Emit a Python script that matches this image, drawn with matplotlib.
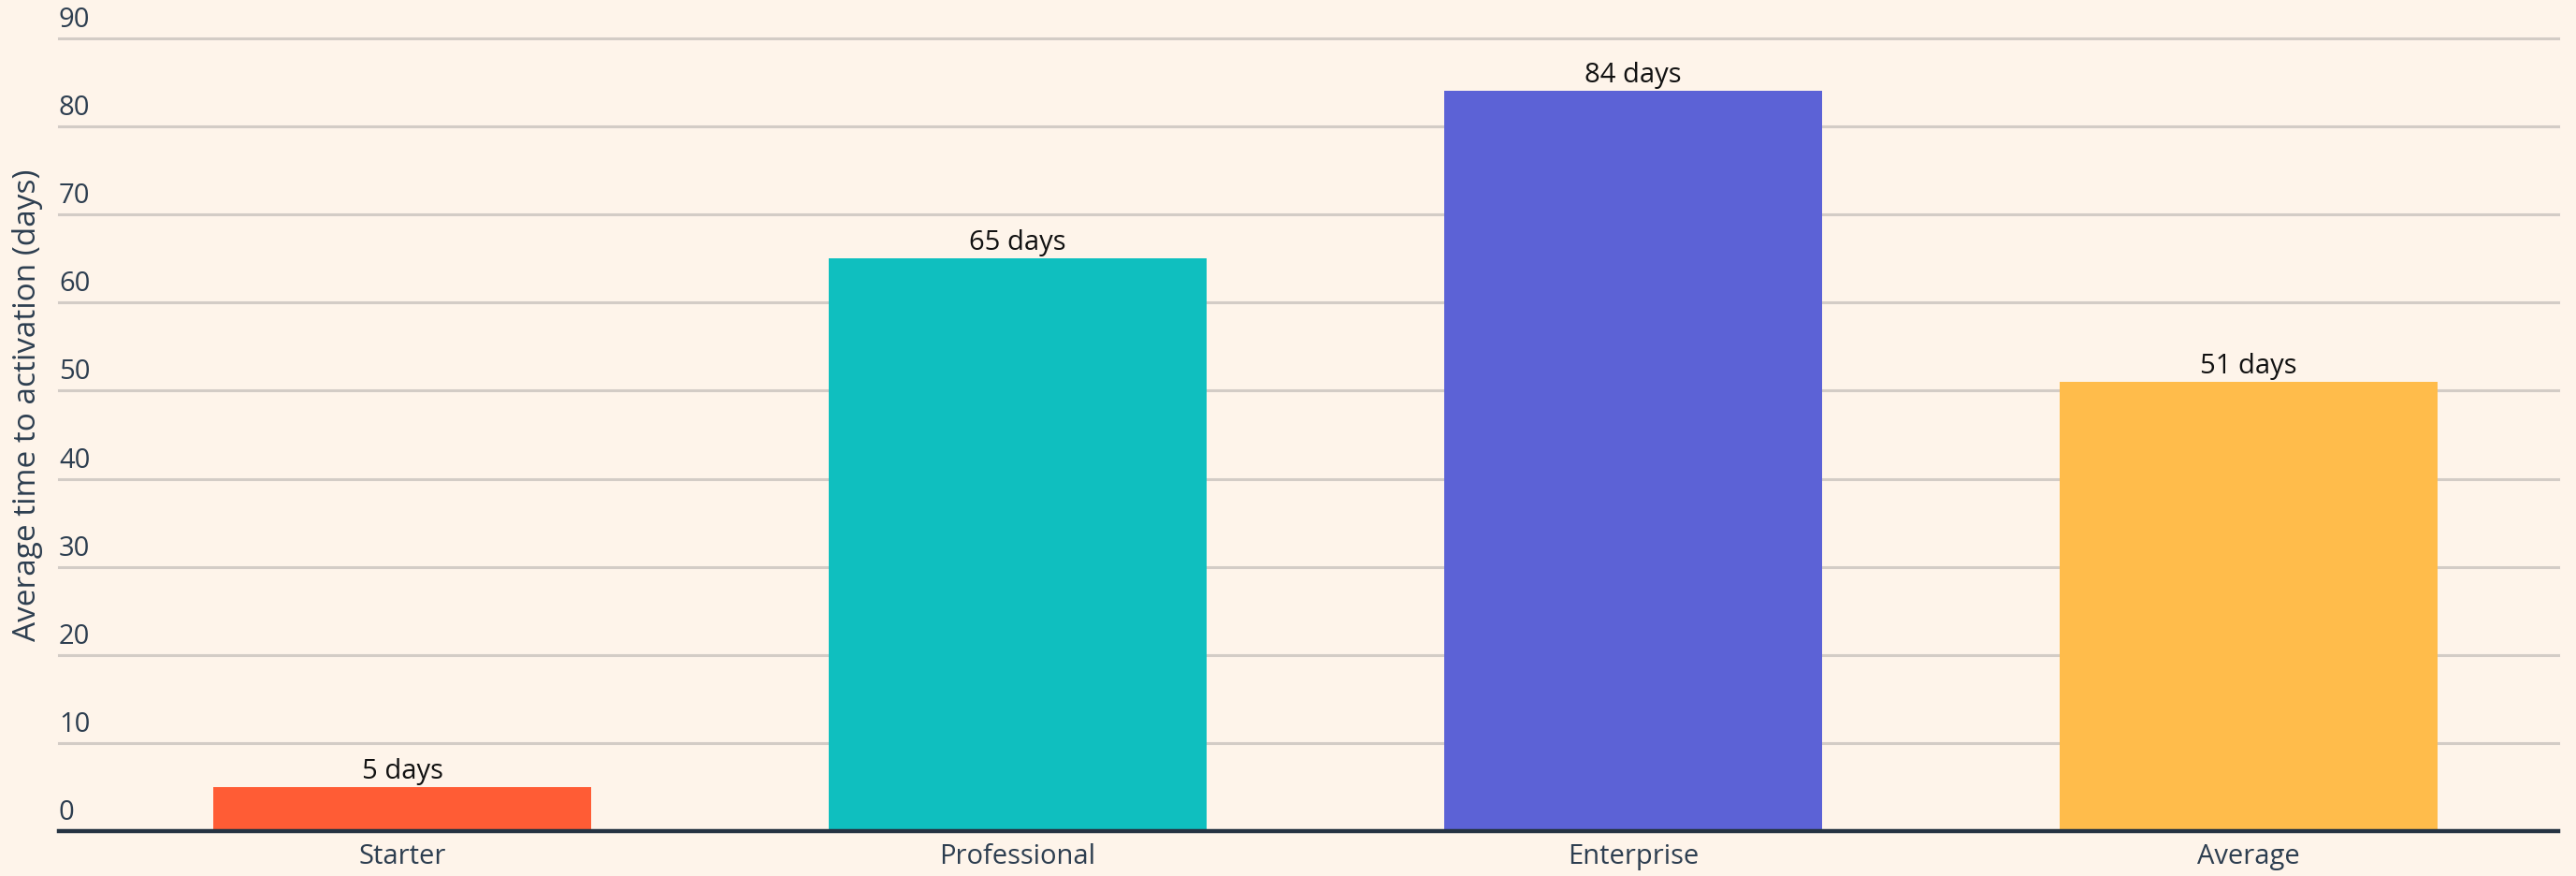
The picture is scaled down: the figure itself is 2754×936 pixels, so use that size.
import matplotlib
matplotlib.use("Agg")
import matplotlib.pyplot as plt
import matplotlib.transforms as mtransforms

categories = ["Starter", "Professional", "Enterprise", "Average"]
values = [5, 65, 84, 51]
value_labels = ["5 days", "65 days", "84 days", "51 days"]
colors = ["#FF5C35", "#0FBFBF", "#5C62D6", "#FFBC4B"]
yticks = [0, 10, 20, 30, 40, 50, 60, 70, 80, 90]
ylabel = "Average time to activation (days)"

W, H = 2754, 937
DPI = 100
bg = "#FEF4EA"
dark = "#2D3E50"

plt.rcParams["font.family"] = ["Open Sans", "DejaVu Sans"]

fig = plt.figure(figsize=(W / DPI, H / DPI), dpi=DPI, facecolor=bg)
left, right, bottom_px, top_px = 63, 2735, 889, 42
ax = fig.add_axes([left / W, 1 - bottom_px / H, (right - left) / W, (bottom_px - top_px) / H])
ax.set_facecolor(bg)

x = list(range(len(categories)))
ax.bar(x, values, width=0.615, color=colors, zorder=3)
ax.set_xlim(-0.558, 3.503)
ax.set_ylim(0, 90)

# gridlines
for t in yticks[1:]:
    ax.axhline(t, color="#D3CCC6", lw=2.2, zorder=1, clip_on=False)
ax.axhline(0, color="#253342", lw=3.2, zorder=4, clip_on=False)

# tick labels above gridlines, left aligned
trans = mtransforms.blended_transform_factory(ax.transAxes, ax.transData)
offset = mtransforms.offset_copy(trans, fig=fig, x=0, y=6, units="dots")
for t in yticks:
    ax.text(0, t, str(t), transform=offset, ha="left", va="bottom",
            fontsize=21, color=dark, clip_on=False)

# value labels
for xi, v, lab in zip(x, values, value_labels):
    ax.annotate(lab, (xi, v), xytext=(0, 3), textcoords="offset pixels",
                ha="center", va="bottom", fontsize=21, color="#111111")

ax.set_xticks(x)
ax.set_xticklabels(categories, fontsize=21, color=dark)
ax.tick_params(axis="x", length=0, pad=9)
ax.set_yticks([])
for s in ax.spines.values():
    s.set_visible(False)

fig.text(30 / W, 1 - 433 / H, ylabel, rotation=90, ha="center", va="center",
         fontsize=24, color=dark)

fig.savefig("out.png", dpi=DPI, facecolor=bg)
